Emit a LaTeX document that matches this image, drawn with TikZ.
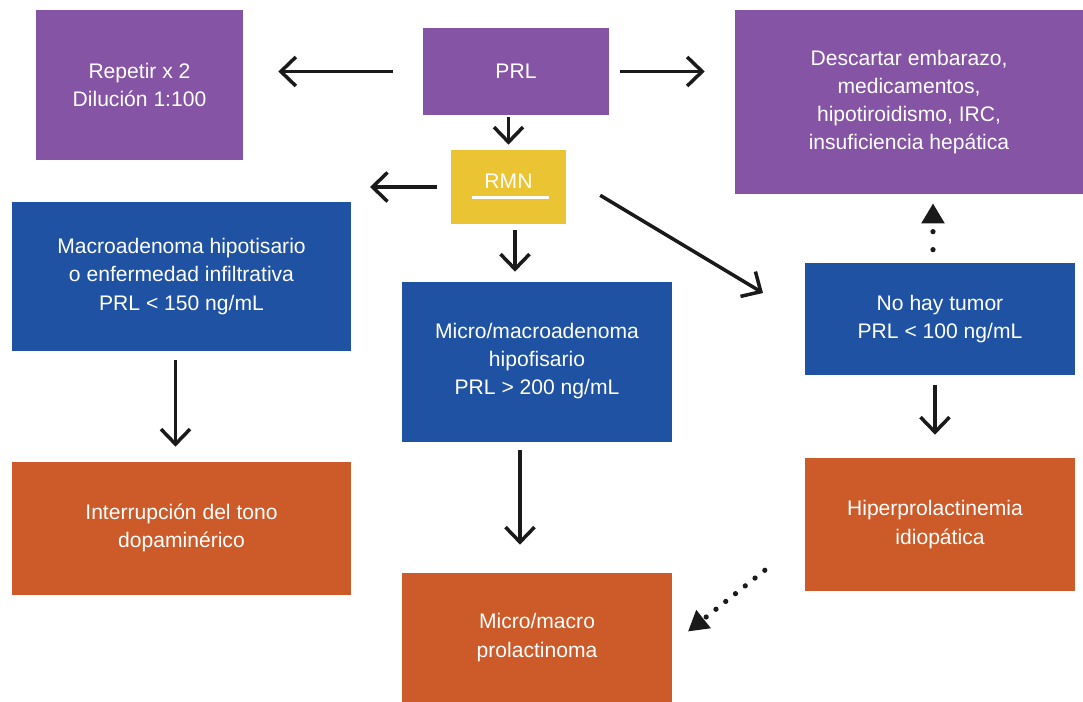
\documentclass[tikz,border=0pt]{standalone}
\usepackage{fontspec}
\setmainfont{Liberation Sans}
\usetikzlibrary{arrows.meta}
\definecolor{cpurple}{HTML}{8654A4}
\definecolor{cblue}{HTML}{1F52A3}
\definecolor{corange}{HTML}{CD5A29}
\definecolor{cyellow}{HTML}{EBC434}
\definecolor{cink}{HTML}{1A1A1A}
\begin{document}
\begin{tikzpicture}[x=0.02cm,y=-0.02cm,
  box/.style={rectangle, inner sep=0pt, align=center, text=white,
              font=\fontsize{12}{16}\selectfont},
  purplebox/.style={box, fill=cpurple},
  bluebox/.style={box, fill=cblue},
  orangebox/.style={box, fill=corange},
  yellowbox/.style={box, fill=cyellow},
  arr/.style={draw=cink, line width=2pt, -{Straight Barb[length=3mm,width=5.8mm]}},
  dotarr/.style={draw=cink, line width=1.05mm, line cap=round,
                 -{Triangle[length=4mm,width=4.4mm,fill=cink]}}]
\useasboundingbox (0,0) rectangle (1083,702);

% nodes
\node[purplebox, minimum width=41.4mm, minimum height=30mm] (rep) at (139.5,85)
  {Repetir x 2\\Dilución 1:100};
\node[purplebox, minimum width=37.2mm, minimum height=17.4mm] (prl) at (516,71.5) {PRL};
\node[purplebox, minimum width=69.6mm, minimum height=36.8mm] (desc) at (909,102)
  {Descartar embarazo,\\medicamentos,\\hipotiroidismo, IRC,\\insuficiencia hepática};
\node[yellowbox, minimum width=23mm, minimum height=14.8mm, text height=3mm, text depth=2.4mm]
  (rmn) at (508.5,187) {RMN};
\node[bluebox, minimum width=67.8mm, minimum height=29.8mm] (macro) at (181.5,276.5)
  {Macroadenoma hipotisario\\o enfermedad infiltrativa\\PRL < 150 ng/mL};
\node[bluebox, minimum width=54mm, minimum height=32mm, text depth=1.4mm] (micro) at (537,362)
  {Micro/macroadenoma\\hipofisario\\PRL > 200 ng/mL};
\node[bluebox, minimum width=54mm, minimum height=22.4mm] (notumor) at (940,319)
  {No hay tumor\\PRL < 100 ng/mL};
\node[orangebox, minimum width=67.8mm, minimum height=26.6mm, text depth=1.2mm] (interr) at (181.5,528.5)
  {Interrupción del tono\\dopaminérico};
\node[orangebox, minimum width=54mm, minimum height=26.6mm] (hiper) at (940,524.5)
  {\hspace*{-2mm}Hiperprolactinemia\\idiopática};
\node[orangebox, minimum width=54mm, minimum height=25.8mm] (prolact) at (537,637.5)
  {Micro/macro\\prolactinoma};

% underline in RMN box
\draw[white, line width=0.6mm] ([shift={(-7.3mm,-2.2mm)}]rmn.center) -- ([shift={(8.1mm,-2.2mm)}]rmn.center);

% free ends
\coordinate (rmnL) at (370,187);
\coordinate (diagE) at (763,293);

% connectors
\draw[arr, shorten <=6mm, shorten >=7mm] (prl.west) -- (prl.west -| rep.east);
\draw[arr, shorten <=2.2mm, shorten >=6mm] (prl.east) -- (prl.east -| desc.west);
\draw[arr, shorten <=0.4mm, shorten >=1mm] (prl.south -| rmn.north) -- (rmn.north);
\draw[arr, shorten <=2.8mm] (rmn.west) -- (rmnL);
\draw[arr, shorten <=1.2mm, shorten >=2mm] ([xshift=1.3mm]rmn.south) -- ([xshift=1.3mm]rmn.south |- micro.north);
\draw[arr, shorten <=7.9mm] ([yshift=2.4mm]rmn.east) -- (diagE);
\draw[arr, shorten <=1.8mm, shorten >=3mm] ([xshift=-1.2mm]macro.south) -- ([xshift=-1.2mm]interr.north);
\draw[arr, shorten <=1.6mm, shorten >=5.6mm] ([xshift=-3.4mm]micro.south) -- ([xshift=-3.4mm]prolact.north);
\draw[arr, shorten <=2mm, shorten >=4.6mm] ([xshift=-1mm]notumor.south) -- ([xshift=-1mm]hiper.north);
\draw[dotarr, dash pattern=on 0pt off 3.6mm, shorten <=2.6mm, shorten >=1.8mm] ([xshift=-1.4mm]notumor.north) -- ([xshift=-1.4mm]notumor.north |- desc.south);
\draw[dotarr, dash pattern=on 0pt off 2.5mm, shorten <=10.2mm, shorten >=4mm] ([yshift=-2.8mm]hiper.west) -- ([yshift=-1.3mm]prolact.east);
\end{tikzpicture}
\end{document}
